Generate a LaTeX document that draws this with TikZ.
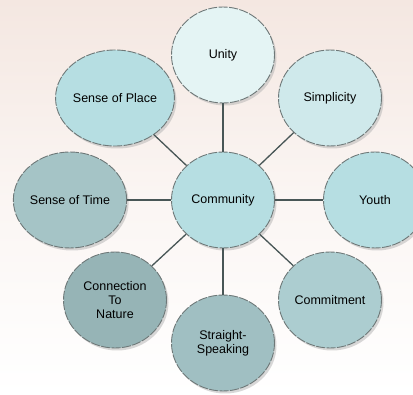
\documentclass[tikz,border=0pt]{standalone}
\usepackage{fontspec}
\setmainfont{Liberation Sans}
\usetikzlibrary{positioning,shapes.geometric,shadows}
\definecolor{bgtop}{RGB}{244,231,225}
\definecolor{ringc}{RGB}{110,120,120}
\definecolor{linkc}{RGB}{72,86,86}
\definecolor{cA}{RGB}{228,244,244}
\definecolor{cB}{RGB}{182,222,226}
\definecolor{cC}{RGB}{207,233,235}
\definecolor{cD}{RGB}{165,196,198}
\definecolor{cE}{RGB}{150,180,182}
\definecolor{cF}{RGB}{160,191,194}
\definecolor{cG}{RGB}{172,205,208}

\begin{document}
\begin{tikzpicture}[x=1pt,y=-1pt,font=\fontsize{12.5}{14}\selectfont,align=center,
            bubble/.style={ellipse,draw=ringc,line width=0.9pt,dash pattern=on 9pt off 1.5pt,minimum width=103pt,minimum height=96pt,inner sep=0pt,drop shadow={shadow xshift=2pt,shadow yshift=-2.5pt,fill=black!30}},
            link/.style={draw=linkc,line width=1.3pt}]

            \useasboundingbox (0,0) rectangle (413,395);
            \shade[top color=bgtop,bottom color=white,middle color=white!60!bgtop] (0,0) rectangle (413,395);

            \node[bubble,fill=cB] (comm) at (223,200) {Community};
            \node[bubble,fill=cA] (unity) at (223,55) {Unity};
            \node[bubble,fill=cB] (place) at (115,98) {Sense of Place};
            \node[bubble,fill=cC] (simp) at (330,98) {Simplicity};
            \node[bubble,fill=cD] (time) at (70,200) {Sense of Time};
            \node[bubble,fill=cB] (youth) at (375,200) {Youth};
            \node[bubble,fill=cE] (nature) at (115,300) {Connection\\To\\Nature};
            \node[bubble,fill=cG] (commit) at (330,300) {Commitment};
            \node[bubble,fill=cF] (speak) at (223,343) {Straight-\\Speaking};

            \foreach \n in {unity,place,simp,time,youth,nature,commit,speak}
               \draw[link] (comm) -- (\n);
         \end{tikzpicture}
\end{document}
